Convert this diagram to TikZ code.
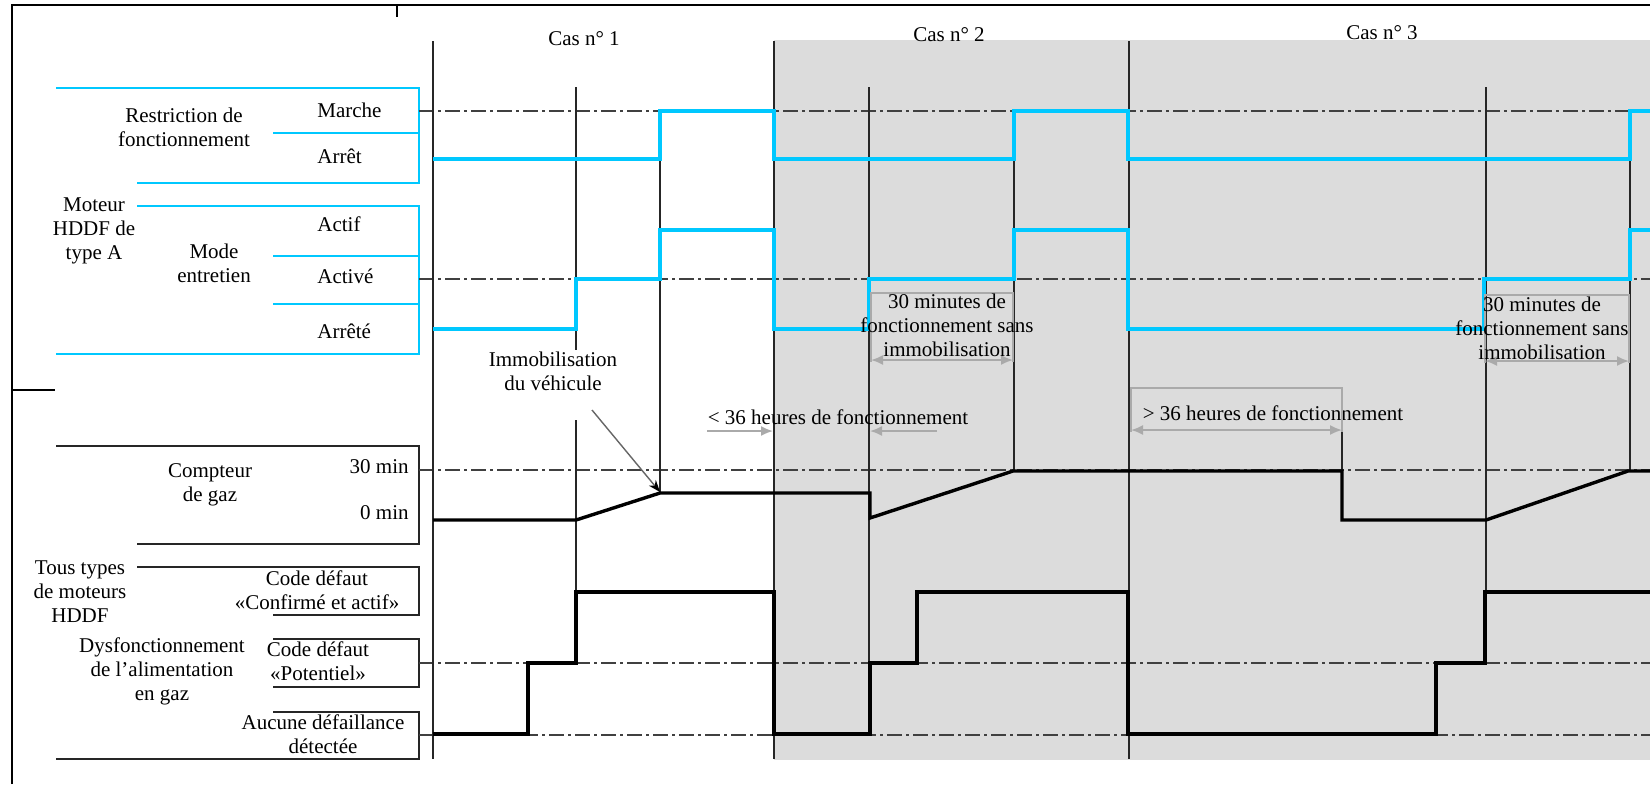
\documentclass[tikz,border=0pt]{standalone}
\usepackage{fontspec}
\setmainfont{Liberation Serif}
\usetikzlibrary{arrows.meta, calc}

\definecolor{sigcyan}{RGB}{0,200,255}
\definecolor{bgshade}{RGB}{220,220,220}
\definecolor{dimgray}{RGB}{170,170,170}

\begin{document}
\begin{tikzpicture}[
    x=0.5pt, y=-0.5pt,
    txt/.style={inner sep=0pt, align=center,
                font=\fontsize{10.5}{12}\selectfont},
    frame/.style={line width=1.4pt, draw=black},
    cyanbox/.style={line width=1pt, draw=sigcyan},
    blackbox/.style={line width=1pt, draw=black!85},
    guide/.style={line width=0.8pt, draw=black!75,
                  dash pattern=on 7.5pt off 2pt on 1.5pt off 2pt},
    mainline/.style={line width=1pt, draw=black!85},
    evline/.style={line width=0.75pt, draw=black!85},
    cyansig/.style={line width=1.8pt, draw=sigcyan},
    blacksig/.style={line width=1.7pt, draw=black},
    dim/.style={line width=0.9pt, draw=dimgray},
    dimarrow/.style={dim, -{Latex[length=6pt, width=5pt]}},
    dimboth/.style={dim, {Latex[length=6pt, width=5pt]}-{Latex[length=6pt, width=5pt]}},
    pointer/.style={line width=0.7pt, draw=black!60,
                    -{Stealth[length=6pt, black]}},
]
\useasboundingbox (0,0) rectangle (1650,784);

% Shaded cases 2 and 3
\fill[bgshade] (774,40) rectangle (1650,760);

% Outer frame
\draw[frame] (12,784) -- (12,5) -- (1650,5);
\draw[frame] (397,5) -- (397,17);
\draw[frame] (12,390) -- (55,390);

% Label frames, engine type A
\draw[cyanbox] (56,88) -- (419,88) -- (419,183) -- (137,183);
\draw[cyanbox] (273,133) -- (419,133);
\draw[cyanbox] (137,206) -- (419,206) -- (419,354) -- (56,354);
\draw[cyanbox] (273,256) -- (419,256);
\draw[cyanbox] (273,304) -- (419,304);

% Label frames, all engine types
\draw[blackbox] (56,446) -- (419,446) -- (419,544) -- (137,544);
\draw[blackbox] (137,567) -- (419,567) -- (419,615) -- (273,615);
\draw[blackbox] (273,639) -- (419,639) -- (419,687) -- (273,687);
\draw[blackbox] (273,712) -- (419,712) -- (419,759) -- (56,759);

% Labels
\node[txt] (restr) at (184,127) {Restriction de\\fonctionnement};
\node[txt, anchor=west] (marche) at (317,110) {Marche};
\node[txt, anchor=west] (arret) at (317,156) {Arrêt};
\node[txt] (moteurA) at (94,231) {Moteur\\HDDF de\\type A};
\node[txt] (mode) at (214,263) {Mode\\entretien};
\node[txt, anchor=west] (actif) at (317,224) {Actif};
\node[txt, anchor=west] (active) at (317,276) {Activé};
\node[txt, anchor=west] (arrete) at (317,331) {Arrêté};
\node[txt] (compteur) at (210,485) {Compteur\\de gaz};
\node[txt, anchor=east] (max) at (409,467) {30 min};
\node[txt, anchor=east] (min) at (409,513) {0 min};
\node[txt] (tous) at (80,592) {Tous types\\de moteurs\\HDDF};
\node[txt] (dysf) at (162,671) {Dysfonctionnement\\de l’alimentation\\en gaz};
\node[txt] (confirme) at (317,590) {Code défaut\\«Confirmé et actif»};
\node[txt] (potentiel) at (318,661) {Code défaut\\«Potentiel»};
\node[txt] (aucune) at (323,734) {Aucune défaillance\\détectée};

% Reference levels
\foreach \lev in {111, 279, 470, 663, 735}
  \draw[guide] (419,\lev) -- (1650,\lev);

% Case boundaries
\foreach \cx in {433, 774, 1129}
  \draw[mainline] (\cx,41) -- (\cx,759);

% Event lines
\draw[evline] (576,87) -- (576,350);
\draw[evline] (576,420) -- (576,592);
\draw[evline] (660,159) -- (660,493);
\draw[evline] (869,87) -- (869,735);
\draw[evline] (1014,159) -- (1014,471);
\draw[evline] (1342,399) -- (1342,471);
\draw[evline] (1486,87) -- (1486,592);
\draw[evline] (1630,159) -- (1630,471);

% Case titles
\node[txt] (cas1) at (584,39) {Cas n° 1};
\node[txt] (cas2) at (949,35) {Cas n° 2};
\node[txt] (cas3) at (1382,33) {Cas n° 3};

% Restriction de fonctionnement
\draw[cyansig] (433,159) -- (660,159) -- (660,111) -- (774,111) -- (774,159)
  -- (1014,159) -- (1014,111) -- (1128,111) -- (1128,159)
  -- (1630,159) -- (1630,111) -- (1650,111);

% Mode entretien
\draw[cyansig] (433,329) -- (576,329) -- (576,279) -- (660,279) -- (660,230)
  -- (774,230) -- (774,329) -- (869,329) -- (869,279) -- (1014,279)
  -- (1014,230) -- (1128,230) -- (1128,329) -- (1484,329) -- (1484,279)
  -- (1630,279) -- (1630,230) -- (1650,230);

% Compteur de gaz
\draw[blacksig] (433,520) -- (576,520) -- (660,493) -- (870,493) -- (870,518)
  -- (1013,471) -- (1342,471) -- (1342,520) -- (1486,520) -- (1628,471)
  -- (1650,471);

% Code defaut
\draw[blacksig] (433,734) -- (528,734) -- (528,663) -- (576,663) -- (576,592)
  -- (774,592) -- (774,734) -- (870,734) -- (870,663) -- (917,663)
  -- (917,592) -- (1128,592) -- (1128,734) -- (1436,734) -- (1436,663)
  -- (1485,663) -- (1485,592) -- (1650,592);

% Immobilisation du vehicule
\node[txt] (immo) at (553,371) {Immobilisation\\du véhicule};
\coordinate (immofrom) at (592,410);
\coordinate (immoto) at (660,492);
\draw[pointer] (immofrom) -- (immoto);

% < 36 heures
\node[txt] (moins36) at (838,417) {< 36 heures de fonctionnement};
\draw[dimarrow] (707,431) -- (773,431);
\draw[dimarrow] (937,431) -- (870,431);

% > 36 heures
\node[txt] (plus36) at (1273,413) {> 36 heures de fonctionnement};
\draw[dim] (1131,432) -- (1131,388) -- (1342,388) -- (1342,432);
\draw[dimboth] (1131,430) -- (1342,430);

% 30 minutes, case 2
\draw[dim] (871,362) -- (871,293) -- (1013,293) -- (1013,362);
\draw[dimboth] (871,360) -- (1013,360);
\node[txt] (trente2) at (947,325) {30 minutes de\\fonctionnement sans\\immobilisation};

% 30 minutes, case 3
\draw[dim] (1485,363) -- (1485,295) -- (1629,295) -- (1629,363);
\draw[dimboth] (1485,361) -- (1629,361);
\node[txt] (trente3) at (1542,328) {30 minutes de\\fonctionnement sans\\immobilisation};

\end{tikzpicture}
\end{document}
